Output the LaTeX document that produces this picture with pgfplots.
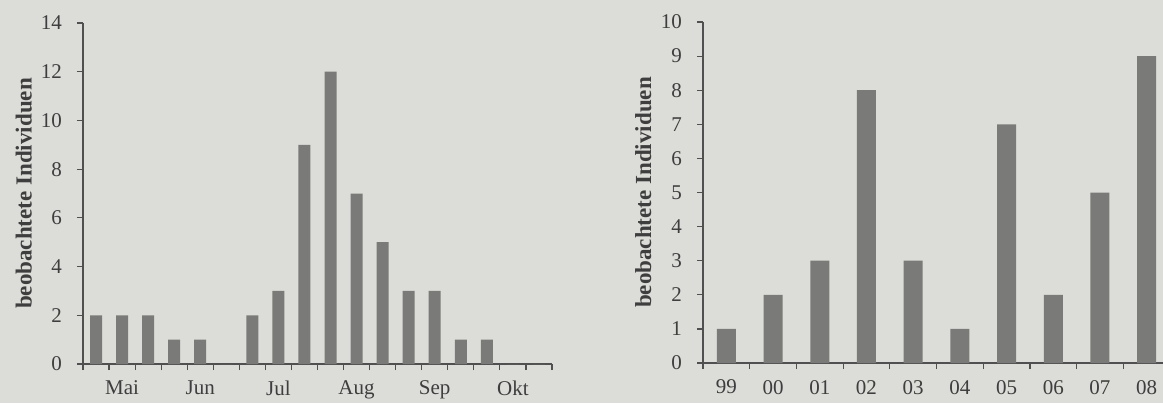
\documentclass[border=0pt]{standalone}
\usepackage{pgfplots}
\pgfplotsset{compat=1.18}
\usepackage{fontspec}
\setmainfont{Liberation Serif}

\definecolor{paper}{RGB}{220,220,217}
\definecolor{barc}{RGB}{122,122,120}
\definecolor{axc}{RGB}{80,80,80}
\definecolor{txt}{RGB}{62,62,62}

\pgfplotsset{
  scan/.style={
    scale only axis,
    axis lines=left,
    axis line style={-, axc, line width=0.7pt},
    tick style={axc, line width=0.6pt},
    tick align=outside,
    major tick length=3pt,
    xmin=0, ymin=0,
    font=\fontsize{10.5}{12}\selectfont,
    tick label style={text=txt},
    x tick label style={yshift=-5pt},
    y tick label style={xshift=-4pt},
    /pgf/number format/assume math mode=true,
    xticklabels={},
    extra x tick style={major tick length=0pt},
    ylabel={\bfseries beobachtete Individuen},
    ylabel style={text=txt, font=\fontsize{11.5}{13}\selectfont, anchor=center},
  }
}

\begin{document}
\begin{tikzpicture}
\useasboundingbox (0,0) rectangle (581.5pt,201.5pt);
\fill[paper] (0,0) rectangle (581.5pt,201.5pt);

% left: saisonale Verteilung (Dekaden)
\begin{axis}[scan,
  at={(41.5pt,19.5pt)}, anchor=south west,
  width=234.5pt, height=170.5pt,
  xmax=18, ymax=14,
  xtick={0,...,18},
  ytick={0,2,...,14},
  extra x ticks={1.5,4.5,7.5,10.5,13.5,16.5},
  extra x tick labels={Mai,Jun,Jul,Aug,Sep,Okt},
  ylabel style={at={(axis description cs:-0.126,0.5)}},
]
\addplot[ybar, bar width=6pt, fill=barc, draw=none] coordinates {
  (0.5,2) (1.5,2) (2.5,2) (3.5,1) (4.5,1) (5.5,0)
  (6.5,2) (7.5,3) (8.5,9) (9.5,12) (10.5,7) (11.5,5)
  (12.5,3) (13.5,3) (14.5,1) (15.5,1) (16.5,0) (17.5,0)
};
\end{axis}

% right: Jahre 1999-2008
\begin{axis}[scan,
  at={(351.5pt,20pt)}, anchor=south west,
  width=230pt, height=170.5pt,
  xmax=9.85, ymax=10,
  xtick={0,...,9},
  ytick={0,...,10},
  extra x ticks={0.5,1.5,2.5,3.5,4.5,5.5,6.5,7.5,8.5,9.5},
  extra x tick labels={99,00,01,02,03,04,05,06,07,08},
  ylabel style={at={(axis description cs:-0.130,0.5)}},
]
\addplot[ybar, bar width=9.5pt, fill=barc, draw=none] coordinates {
  (0.5,1) (1.5,2) (2.5,3) (3.5,8) (4.5,3)
  (5.5,1) (6.5,7) (7.5,2) (8.5,5) (9.5,9)
};
\end{axis}
\end{tikzpicture}
\end{document}
